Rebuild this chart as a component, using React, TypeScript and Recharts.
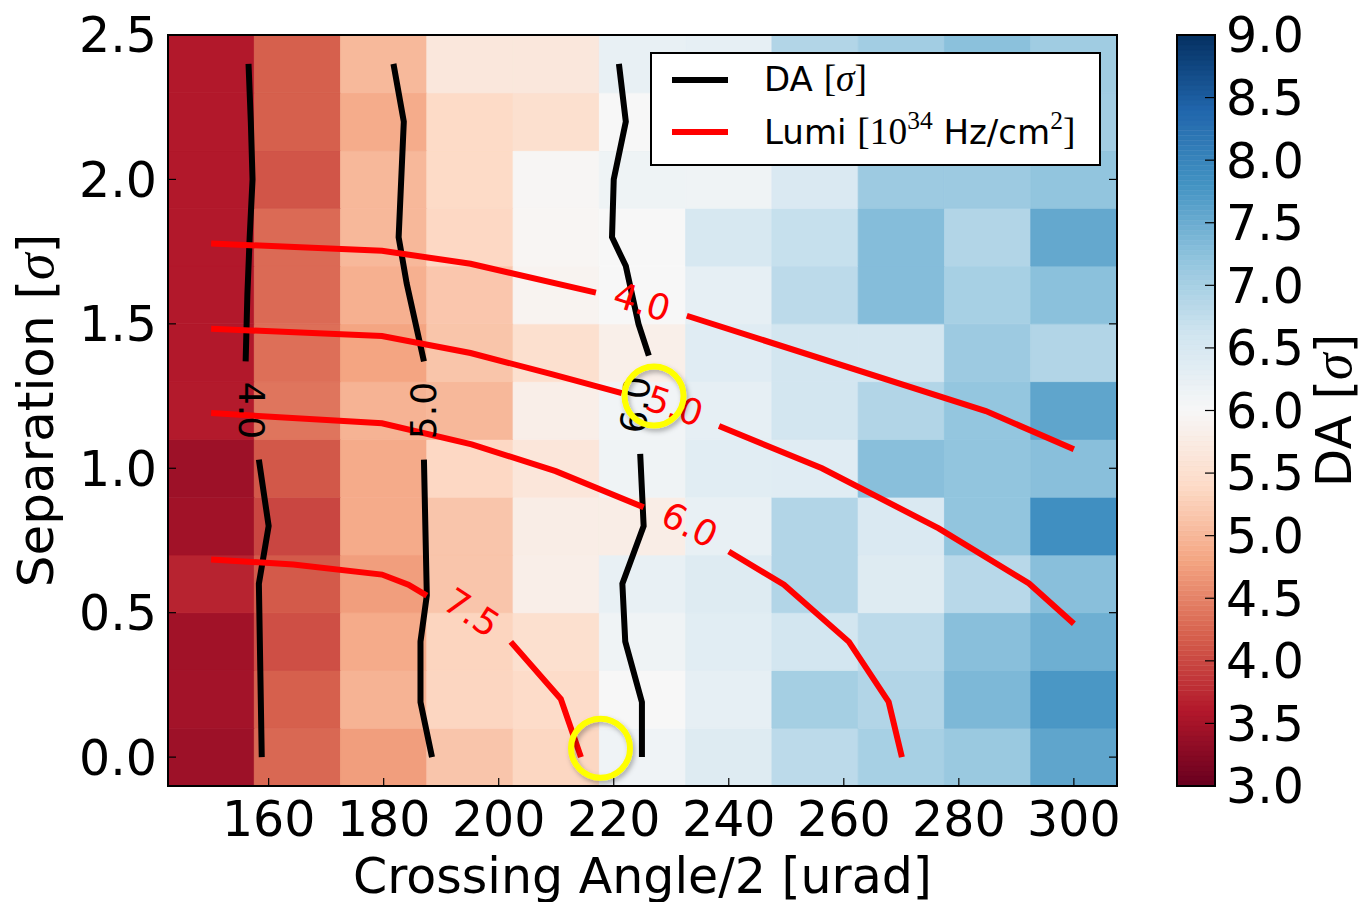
import React from 'react';
import {
  ComposedChart,
  XAxis,
  YAxis,
  ReferenceArea,
  ReferenceDot,
  Line,
  Scatter,
  Legend,
} from 'recharts';

// Scan grid: half crossing angle [urad] and beam separation [sigma]
const crossingAngles = [150, 165, 180, 195, 210, 225, 240, 255, 270, 285, 300];
const separations = [0.0, 0.2, 0.4, 0.6, 0.8, 1.0, 1.2, 1.4, 1.6, 1.8, 2.0, 2.2, 2.4];

// Dynamic aperture [sigma]; one row per separation, columns follow crossingAngles
const daSep00 = [3.43, 4.27, 4.74, 5.16, 5.36, 6.12, 6.4, 6.8, 7.0, 7.12, 7.59];
const daSep02 = [3.48, 4.2, 4.96, 5.35, 5.42, 6.0, 6.27, 7.02, 6.9, 7.36, 7.75];
const daSep04 = [3.46, 4.06, 4.87, 5.33, 5.5, 6.13, 6.35, 6.57, 6.8, 7.27, 7.47];
const daSep06 = [3.69, 4.15, 4.74, 5.16, 5.81, 6.24, 6.39, 6.9, 6.4, 6.84, 7.27];
const daSep08 = [3.46, 3.98, 4.87, 5.16, 5.79, 5.79, 6.24, 6.9, 6.45, 7.2, 7.85];
const daSep10 = [3.43, 4.13, 4.87, 5.37, 5.64, 6.13, 6.35, 6.37, 7.27, 7.2, 7.27];
const daSep12 = [3.62, 4.38, 4.96, 5.01, 5.81, 6.1, 6.27, 6.57, 6.9, 7.18, 7.59];
const daSep14 = [3.6, 4.33, 4.8, 5.15, 5.5, 5.82, 6.37, 6.57, 6.57, 7.1, 6.9];
const daSep16 = [3.6, 4.29, 4.92, 5.17, 5.91, 6.0, 6.27, 6.8, 7.3, 7.0, 7.25];
const daSep18 = [3.6, 4.29, 5.01, 5.37, 5.95, 6.0, 6.5, 6.7, 7.3, 6.9, 7.55];
const daSep20 = [3.6, 4.11, 5.01, 5.4, 5.96, 6.14, 6.13, 6.45, 7.1, 7.1, 7.2];
const daSep22 = [3.6, 4.2, 4.88, 5.4, 5.5, 6.0, 6.2, 6.6, 7.0, 7.1, 7.05];
const daSep24 = [3.6, 4.2, 5.02, 5.66, 5.66, 6.24, 6.27, 6.9, 7.05, 7.25, 7.07];
const daGrid = [
  daSep00, daSep02, daSep04, daSep06, daSep08, daSep10, daSep12,
  daSep14, daSep16, daSep18, daSep20, daSep22, daSep24,
];

// DA iso-lines (black), split where the inline level label sits
const daLevels = [4.0, 5.0, 6.0];
const da4Upper = [
  { x: 156.5, y: 2.4 }, { x: 156.9, y: 2.2 }, { x: 157.2, y: 2.0 },
  { x: 156.7, y: 1.8 }, { x: 156.3, y: 1.6 }, { x: 156.0, y: 1.37 },
];
const da4Lower = [
  { x: 158.3, y: 1.03 }, { x: 160.0, y: 0.8 }, { x: 158.3, y: 0.6 }, { x: 158.8, y: 0.0 },
];
const da5Upper = [
  { x: 181.7, y: 2.4 }, { x: 183.5, y: 2.2 }, { x: 182.6, y: 1.8 },
  { x: 184.0, y: 1.64 }, { x: 187.0, y: 1.37 },
];
const da5Lower = [
  { x: 187.0, y: 1.03 }, { x: 187.5, y: 0.56 }, { x: 186.4, y: 0.4 },
  { x: 186.4, y: 0.19 }, { x: 188.4, y: 0.0 },
];
const da6Upper = [
  { x: 220.9, y: 2.4 }, { x: 222.1, y: 2.2 }, { x: 220.0, y: 2.0 }, { x: 219.7, y: 1.8 },
  { x: 222.1, y: 1.7 }, { x: 224.3, y: 1.5 }, { x: 226.1, y: 1.39 },
];
const da6Lower = [
  { x: 224.6, y: 1.05 }, { x: 225.2, y: 0.8 }, { x: 221.5, y: 0.6 },
  { x: 222.0, y: 0.4 }, { x: 224.9, y: 0.19 }, { x: 224.9, y: 0.0 },
];
const daSegments = [da4Upper, da4Lower, da5Upper, da5Lower, da6Upper, da6Lower];

// Luminosity iso-lines [1e34 Hz/cm^2] (red)
const lumiLevels = [4.0, 5.0, 6.0, 7.5];
const lumi4Left = [
  { x: 150, y: 1.778 }, { x: 179.7, y: 1.753 }, { x: 195.1, y: 1.708 }, { x: 216.9, y: 1.608 },
];
const lumi4Right = [{ x: 232.7, y: 1.528 }, { x: 284.7, y: 1.198 }, { x: 300, y: 1.066 }];
const lumi5Left = [
  { x: 150, y: 1.483 }, { x: 179.7, y: 1.458 }, { x: 195.1, y: 1.399 },
  { x: 209.2, y: 1.326 }, { x: 221.4, y: 1.26 },
];
const lumi5Right = [
  { x: 238.3, y: 1.146 }, { x: 256.2, y: 1.0 }, { x: 276.5, y: 0.792 },
  { x: 292.2, y: 0.601 }, { x: 300, y: 0.462 },
];
const lumi6Left = [
  { x: 150, y: 1.191 }, { x: 179.7, y: 1.156 }, { x: 195.3, y: 1.083 },
  { x: 209.9, y: 0.99 }, { x: 225.2, y: 0.865 },
];
const lumi6Right = [
  { x: 240.0, y: 0.712 }, { x: 249.6, y: 0.597 }, { x: 260.9, y: 0.399 },
  { x: 267.8, y: 0.191 }, { x: 270.1, y: 0.0 },
];
const lumi75Left = [
  { x: 150, y: 0.684 }, { x: 164.3, y: 0.667 }, { x: 179.7, y: 0.632 },
  { x: 184.3, y: 0.597 }, { x: 187.5, y: 0.559 },
];
const lumi75Right = [{ x: 202.1, y: 0.399 }, { x: 210.8, y: 0.201 }, { x: 214.3, y: 0.0 }];
const lumiSegments = [
  lumi4Left, lumi4Right, lumi5Left, lumi5Right,
  lumi6Left, lumi6Right, lumi75Left, lumi75Right,
];

// Inline contour labels: position along the line and text rotation [deg]
const daLabelSpots = [
  { x: 157.0, y: 1.2, level: daLevels[0], angle: 90 },
  { x: 187.0, y: 1.2, level: daLevels[1], angle: -90 },
  { x: 223.8, y: 1.22, level: daLevels[2], angle: -85 },
];
const lumiLabelSpots = [
  { x: 224.9, y: 1.576, level: lumiLevels[0], angle: 17 },
  { x: 230.6, y: 1.215, level: lumiLevels[1], angle: 19 },
  { x: 233.2, y: 0.804, level: lumiLevels[2], angle: 27 },
  { x: 195.3, y: 0.5, level: lumiLevels[3], angle: 33 },
];

// Highlighted working points
const highlights = [
  { x: 227.0, y: 1.25 },
  { x: 217.7, y: 0.031 },
];

const xTicks = [160, 180, 200, 220, 240, 260, 280, 300];
const yTicks = [0, 0.5, 1.0, 1.5, 2.0, 2.5];
const daRange = [3, 9];
const cbTicks = [3, 3.5, 4, 4.5, 5, 5.5, 6, 6.5, 7, 7.5, 8, 8.5, 9];

// RdBu colour map control points (low -> high)
const rdbuStops = [
  '#67001f', '#b2182b', '#d6604d', '#f4a582', '#fddbc7', '#f7f7f7',
  '#d1e5f0', '#92c5de', '#4393c3', '#2166ac', '#053061',
];

const SANS = 'DejaVu Sans';
const SERIF = 'Liberation Serif';
const LUMI_RED = '#ff0000';

const hexToRgb = (h: string) => [
  parseInt(h.slice(1, 3), 16),
  parseInt(h.slice(3, 5), 16),
  parseInt(h.slice(5, 7), 16),
];

function rdbu(v: number): string {
  const n = rdbuStops.length - 1;
  const t = Math.min(1, Math.max(0, (v - daRange[0]) / (daRange[1] - daRange[0]))) * n;
  const i = Math.min(n - 1, Math.floor(t));
  const f = t - i;
  const a = hexToRgb(rdbuStops[i]);
  const b = hexToRgb(rdbuStops[i + 1]);
  const c = a.map((av, k) => Math.round(av + (b[k] - av) * f));
  return `rgb(${c[0]},${c[1]},${c[2]})`;
}

const xStep = crossingAngles[1] - crossingAngles[0];
const yStep = separations[1] - separations[0];
const xDomain = [crossingAngles[0] - xStep / 2, crossingAngles[crossingAngles.length - 1] + xStep / 2];
const yDomain = [separations[0] - yStep / 2, 2.5];

// colour bar is drawn as thin bands sampled from the colour map
const CB_BANDS = 150;
const cbBandHeight = (daRange[1] - daRange[0]) / CB_BANDS;

const LABEL_SIZE = 36;

const makeLabelShape = (color: string) => (props: any) => {
  const { cx, cy, payload } = props;
  return (
    <text
      x={cx}
      y={cy}
      fill={color}
      fontSize={LABEL_SIZE}
      fontFamily={SANS}
      textAnchor="middle"
      dominantBaseline="central"
      transform={`rotate(${payload.angle} ${cx} ${cy})`}
    >
      {payload.level.toFixed(1)}
    </text>
  );
};

const ringShape = (props: any) => (
  <circle
    cx={props.cx}
    cy={props.cy}
    r={29.5}
    fill="none"
    stroke="#ffff00"
    strokeWidth={6}
    filter="url(#ringShadow)"
  />
);

const xTitle = (props: any) => {
  const vb = props.viewBox;
  return (
    <text x={vb.x + vb.width / 2} y={vb.y + 107} textAnchor="middle" fontSize={49} fontFamily={SANS} fill="#000">
      Crossing Angle/2 [urad]
    </text>
  );
};

const yTitle = (props: any) => {
  const vb = props.viewBox;
  const tx = vb.x - 15;
  const ty = vb.y + vb.height / 2;
  return (
    <text x={tx} y={ty} transform={`rotate(-90 ${tx} ${ty})`} textAnchor="middle" fontSize={50} fontFamily={SANS} fill="#000">
      Separation [<tspan fontFamily={SERIF} fontStyle="italic" fontSize={54}>σ</tspan>]
    </text>
  );
};

const cbTitle = (props: any) => {
  const vb = props.viewBox;
  const tx = vb.x + 136;
  const ty = vb.y + vb.height / 2;
  return (
    <text x={tx} y={ty} transform={`rotate(-90 ${tx} ${ty})`} textAnchor="middle" fontSize={50} fontFamily={SANS} fill="#000">
      DA [<tspan fontFamily={SERIF} fontStyle="italic" fontSize={54}>σ</tspan>]
    </text>
  );
};

const mathStyle: React.CSSProperties = { fontFamily: SERIF, fontSize: '1.1em' };
const supStyle: React.CSSProperties = {
  fontFamily: SERIF,
  fontSize: '0.75em',
  position: 'relative',
  top: '-0.6em',
};

const legendRows = [
  { color: '#000000', top: 23, textTop: 5 },
  { color: LUMI_RED, top: 75, textTop: 58 },
];

const renderLegend = () => (
  <div
    style={{
      boxSizing: 'border-box',
      width: 451,
      height: 114,
      border: '2px solid #000',
      background: '#fff',
      position: 'relative',
      fontFamily: SANS,
      fontSize: 34,
      color: '#000',
    }}
  >
    {legendRows.map((r, i) => (
      <div key={`sw${i}`} style={{ position: 'absolute', left: 20, top: r.top, width: 56, height: 6, background: r.color }} />
    ))}
    <div style={{ position: 'absolute', left: 112, top: legendRows[0].textTop, height: 40, lineHeight: '40px', whiteSpace: 'nowrap' }}>
      DA <span style={mathStyle}>[</span>
      <span style={{ ...mathStyle, fontStyle: 'italic' }}>σ</span>
      <span style={mathStyle}>]</span>
    </div>
    <div style={{ position: 'absolute', left: 112, top: legendRows[1].textTop, height: 40, lineHeight: '40px', whiteSpace: 'nowrap' }}>
      Lumi <span style={mathStyle}>[10</span>
      <span style={supStyle}>34</span> Hz/cm<span style={supStyle}>2</span>
      <span style={mathStyle}>]</span>
    </div>
  </div>
);

const tickFont = { fontSize: 49, fill: '#000', fontFamily: SANS };
const frameLine = { stroke: '#000', strokeWidth: 2, strokeLinecap: 'square' as const };
const tickLine = { stroke: '#000', strokeWidth: 1.2 };
const EmptyTick = () => <g />;

export default function App() {
  const cells: React.ReactElement[] = [];
  separations.forEach((s, j) => {
    crossingAngles.forEach((a, i) => {
      const col = rdbu(daGrid[j][i]);
      cells.push(
        <ReferenceArea
          key={`c${j}-${i}`}
          x1={a - xStep / 2}
          x2={a + xStep / 2}
          y1={s - yStep / 2}
          y2={s + yStep / 2}
          fill={col}
          fillOpacity={1}
          stroke={col}
          strokeWidth={0.8}
          ifOverflow="hidden"
        />,
      );
    });
  });

  const bands: React.ReactElement[] = [];
  for (let k = 0; k < CB_BANDS; k++) {
    const lo = daRange[0] + k * cbBandHeight;
    const col = rdbu(lo + cbBandHeight / 2);
    bands.push(
      <ReferenceArea
        key={`b${k}`}
        x1={0}
        x2={1}
        y1={lo}
        y2={lo + cbBandHeight}
        fill={col}
        fillOpacity={1}
        stroke={col}
        strokeWidth={0.6}
        ifOverflow="hidden"
      />,
    );
  }

  return (
    <div style={{ position: 'absolute', left: 0, top: 0, width: 1364, height: 902, background: '#fff', fontFamily: SANS }}>
      <div style={{ position: 'absolute', left: 0, top: 0 }}>
        <ComposedChart width={1364} height={902} margin={{ top: 34, right: 246, bottom: 56, left: 68 }}>
          <defs>
            <filter id="ringShadow" x="-50%" y="-50%" width="200%" height="200%">
              <feDropShadow dx="2" dy="3" stdDeviation="2.5" floodColor="#000" floodOpacity="0.3" />
            </filter>
          </defs>
          {cells}
          {daSegments.map((seg, i) => (
            <Line
              key={`da${i}`}
              data={seg}
              dataKey="y"
              type="linear"
              stroke="#000"
              strokeWidth={6}
              dot={false}
              activeDot={false}
              legendType="none"
              isAnimationActive={false}
            />
          ))}
          {lumiSegments.map((seg, i) => (
            <Line
              key={`lumi${i}`}
              data={seg}
              dataKey="y"
              type="linear"
              stroke={LUMI_RED}
              strokeWidth={6}
              dot={false}
              activeDot={false}
              legendType="none"
              isAnimationActive={false}
            />
          ))}
          <Scatter data={daLabelSpots} shape={makeLabelShape('#000')} legendType="none" isAnimationActive={false} />
          <Scatter data={lumiLabelSpots} shape={makeLabelShape(LUMI_RED)} legendType="none" isAnimationActive={false} />
          {highlights.map((h, i) => (
            <ReferenceDot key={`hl${i}`} x={h.x} y={h.y} r={29.5} shape={ringShape} ifOverflow="visible" />
          ))}
          <Legend
            content={renderLegend}
            layout="horizontal"
            verticalAlign="middle"
            align="center"
            wrapperStyle={{ left: 650, top: 52, width: 451, height: 114 }}
          />
          <XAxis
            type="number"
            dataKey="x"
            domain={xDomain}
            allowDataOverflow
            ticks={xTicks}
            height={60}
            tickSize={-8}
            tickMargin={23}
            tick={tickFont}
            axisLine={frameLine}
            tickLine={tickLine}
            interval={0}
            label={xTitle}
          />
          <XAxis
            xAxisId="top"
            orientation="top"
            type="number"
            domain={xDomain}
            allowDataOverflow
            ticks={xTicks}
            height={1}
            tickSize={-8}
            tick={EmptyTick}
            axisLine={frameLine}
            tickLine={tickLine}
            interval={0}
          />
          <YAxis
            type="number"
            dataKey="y"
            domain={yDomain}
            allowDataOverflow
            ticks={yTicks}
            width={100}
            tickSize={-8}
            tickMargin={19}
            tick={tickFont}
            tickFormatter={(v: number) => v.toFixed(1)}
            axisLine={frameLine}
            tickLine={tickLine}
            interval={0}
            label={yTitle}
          />
          <YAxis
            yAxisId="right"
            orientation="right"
            type="number"
            domain={yDomain}
            allowDataOverflow
            ticks={yTicks}
            width={1}
            tickSize={-8}
            tick={EmptyTick}
            axisLine={frameLine}
            tickLine={tickLine}
            interval={0}
          />
        </ComposedChart>
      </div>

      <div style={{ position: 'absolute', left: 1150, top: 0 }}>
        <ComposedChart
          width={214}
          height={902}
          data={cbTicks.map((v) => ({ x: 0.5, y: v }))}
          margin={{ top: 35, right: 0, bottom: 116, left: 27 }}
        >
          {bands}
          <ReferenceArea
            x1={0}
            x2={1}
            y1={daRange[0]}
            y2={daRange[1]}
            fill="none"
            stroke="#000"
            strokeWidth={2}
            ifOverflow="visible"
          />
          <XAxis type="number" dataKey="x" domain={[0, 1]} allowDataOverflow hide />
          <YAxis
            orientation="right"
            type="number"
            dataKey="y"
            domain={daRange}
            allowDataOverflow
            ticks={cbTicks}
            width={149}
            tickSize={-10}
            tickMargin={21}
            tick={tickFont}
            tickFormatter={(v: number) => v.toFixed(1)}
            axisLine={false}
            tickLine={tickLine}
            interval={0}
            label={cbTitle}
          />
        </ComposedChart>
      </div>
    </div>
  );
}
